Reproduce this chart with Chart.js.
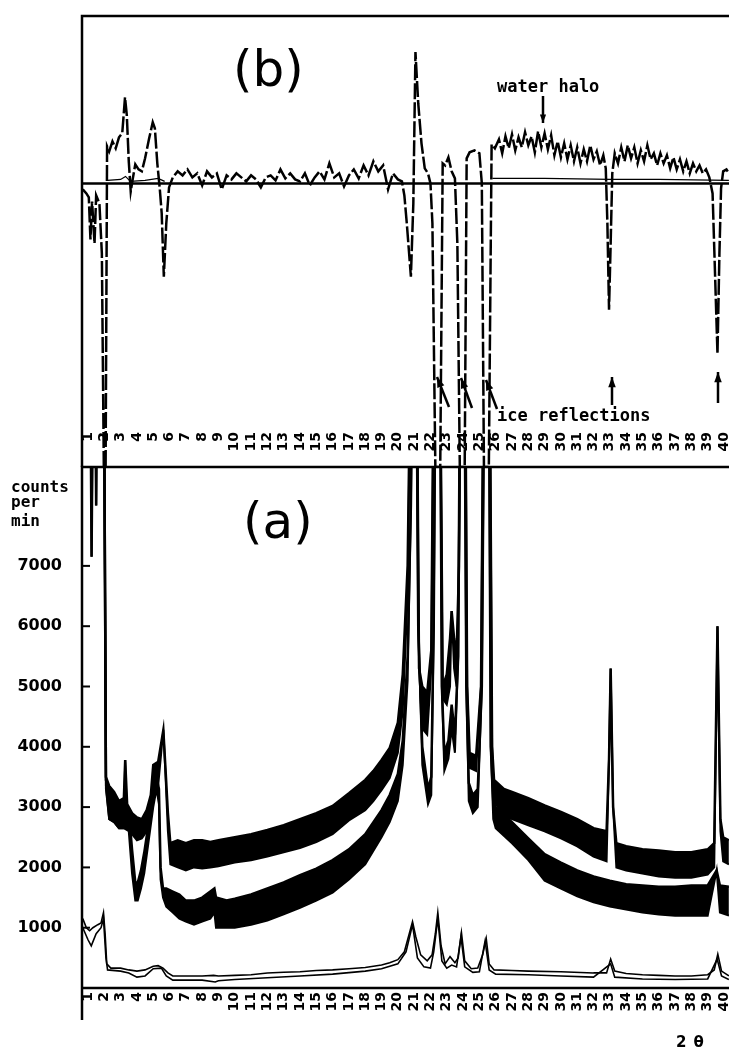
<!DOCTYPE html>
<html>
<head>
<meta charset="utf-8">
<script src="https://cdn.jsdelivr.net/npm/chart.js@4.4.1/dist/chart.umd.min.js"></script>
<style>
  html, body { margin: 0; padding: 0; background: #fff; }
  #wrap { position: relative; width: 729px; height: 1050px; overflow: hidden; }
  #wrap canvas { position: absolute; left: 0; }
  #chart-b { top: 0; }
  #chart-a { top: 460px; }
</style>
</head>
<body>
<div id="wrap">
  <canvas id="chart-b" width="729" height="467"></canvas>
  <canvas id="chart-a" width="729" height="590"></canvas>
</div>
<script>
// --- axis values ---
const angleTicks = [1, 2, 3, 4, 5, 6, 7, 8, 9, 10, 11, 12, 13, 14, 15, 16, 17, 18, 19, 20,
                    21, 22, 23, 24, 25, 26, 27, 28, 29, 30, 31, 32, 33, 34, 35, 36, 37, 38, 39, 40];
const countTicks = [1000, 2000, 3000, 4000, 5000, 6000, 7000];

// --- panel (b): difference trace, arbitrary units, 0 = baseline ---
const bAngle = [0.68, 0.9, 1.05, 1.15, 1.25, 1.4, 1.5, 1.7, 1.85, 1.97, 2.08, 2.17, 2.3, 2.5, 2.7, 2.9, 3.1, 3.27, 3.38, 3.5,
  3.62, 3.75, 3.9, 4.1, 4.3, 4.5, 4.75, 4.97, 5.1, 5.25, 5.4, 5.52, 5.65, 5.8, 5.97, 6.2,
  6.5, 6.8, 7.1, 7.4, 7.7, 8.0, 8.3, 8.6, 8.9, 9.2, 9.5, 9.8, 10.1, 10.4, 10.7, 11.0, 11.3, 11.6, 11.9, 12.2,
  12.5, 12.8, 13.1, 13.4, 13.7, 14.0, 14.3, 14.6, 14.9, 15.2, 15.5, 15.8, 16.1, 16.4, 16.7, 17.0, 17.3, 17.6,
  17.9, 18.2, 18.5, 18.8, 19.1, 19.4, 19.7, 20.0, 20.25,
  20.4, 20.55, 20.8, 20.95, 21.08, 21.25, 21.45, 21.65, 21.85, 22.0, 22.12, 22.3, 22.6, 22.75, 22.9, 23.1, 23.3,
  23.5, 23.65, 23.8, 24.1, 24.22, 24.4, 24.7, 25.0, 25.15, 25.28, 25.58, 25.75, 25.95,
  26.2, 26.4, 26.6, 26.8, 27.0, 27.2, 27.4, 27.6, 27.8, 28.0, 28.2, 28.4, 28.6, 28.8, 29.0, 29.2, 29.4, 29.6,
  29.8, 30.0, 30.2, 30.4, 30.6, 30.8, 31.0, 31.2, 31.4, 31.6, 31.8, 32.0, 32.2, 32.4, 32.6, 32.75, 32.85, 32.95,
  33.05, 33.15, 33.3, 33.5, 33.7, 33.9, 34.1, 34.3, 34.5, 34.7, 34.9, 35.1, 35.3, 35.5, 35.7, 35.9, 36.1, 36.3,
  36.5, 36.7, 36.9, 37.1, 37.3, 37.5, 37.7, 37.9, 38.1, 38.3, 38.5, 38.7, 38.9, 39.1, 39.3, 39.45, 39.6, 39.72,
  39.82, 39.95, 40.15, 40.3];
const bDiff = [-6, -10, -14, -56, -18, -60, -12, -20, -70, -283, -283, 37, 32, 42, 35, 46, 50, 86, 68, 22,
  -8, 5, 19, 14, 12, 25, 45, 61, 55, 20, -5, -30, -93, -40, -4, 6,
  12, 8, 14, 6, 10, -2, 12, 6, 10, -6, 8, 4, 10, 6, 2, 8, 4, -4, 6, 8,
  3, 14, 5, 10, 4, 2, 10, -2, 6, 12, 4, 20, 6, 10, -3, 8, 14, 5,
  18, 8, 22, 12, 18, -6, 10, 4, 2,
  -12, -40, -93, -20, 131, 80, 40, 15, 10, 0, -40, -283, -283, 20, 18, 26, 12,
  5, -60, -283, -283, 25, 31, 33, 30, 0, -283, -283, 39, 35,
  44, 30, 47, 35, 49, 33, 46, 36, 51, 38, 47, 31, 52, 36, 50, 34, 48, 28,
  42, 26, 40, 24, 38, 22, 36, 20, 34, 22, 38, 24, 32, 18, 28, 15, -40, -126,
  -60, 10, 30, 20, 36, 22, 38, 25, 36, 20, 33, 22, 38, 24, 30, 18, 30, 20,
  28, 15, 26, 14, 24, 12, 22, 10, 20, 12, 18, 10, 14, 6, -10, -90, -170, -70,
  -5, 12, 14, 10];
// thin reference trace just above the baseline
const bRefAngle = [2.2, 3.0, 3.3, 3.6, 4.5, 5.3, 5.7, 5.9, 25.8, 29, 33, 36, 40.3];
const bRef = [3, 4, 7, 2, 3, 5, 2, null, 5, 5, 4, 4, 3];

// --- panel (a): counts per min ---
const upperAngle = [0.68, 1.1, 1.22, 1.35, 1.95, 2.1, 2.3, 2.6, 2.9, 3.2, 3.28, 3.4, 3.7, 4.0, 4.3, 4.6, 4.85, 5.0, 5.3,
  5.62, 5.75, 5.9, 6.05, 6.5, 7.0, 7.5, 8.0, 8.5, 9.0, 10, 11, 12, 13, 14, 15, 16, 17, 18, 18.5, 19, 19.5, 20,
  20.3, 20.6, 20.85, 21.12, 21.3, 21.5, 21.8, 22.05, 22.25, 22.55, 22.75, 23.0, 23.2, 23.3, 23.45, 23.6, 23.75,
  23.88, 24.1, 24.25, 24.4, 24.8, 25.1, 25.3, 25.6, 25.78, 25.9, 26.5, 27, 28, 29, 30, 31, 32, 32.8, 32.95,
  33.05, 33.2, 33.4, 34, 35, 36, 37, 38, 39, 39.4, 39.6, 39.78, 39.95, 40.3];
const upperHigh = [12000, 12000, 7150, 12000, 12000, 3500, 3350, 3250, 3100, 3150, 3780, 3050, 2900, 2830, 2800, 2950, 3200, 3700, 3750,
  4280, 3650, 2900, 2400, 2450, 2400, 2450, 2450, 2420, 2450, 2500, 2550, 2620, 2700, 2800, 2900, 3020, 3230, 3450, 3600, 3780, 3980, 4400,
  5200, 7000, 12000, 12000, 5300, 5000, 4900, 5600, 12000, 12000, 5000, 5200, 5800, 6250, 5800, 5500, 7000,
  12000, 12000, 5000, 3900, 3850, 5000, 12000, 12000, 4000, 3450, 3300, 3250, 3150, 3030, 2920, 2800, 2650, 2600, 3800,
  5300, 3000, 2400, 2350, 2300, 2280, 2250, 2250, 2300, 2400, 6000, 2800, 2500, 2450];
const upperLow = [12000, 12000, 7150, 12000, 12000, 3350, 2800, 2750, 2650, 2650, 3780, 2700, 2550, 2450, 2480, 2600, 2850, 3150, 3350,
  4280, 3550, 2600, 2050, 2000, 1950, 2000, 1980, 2000, 2020, 2080, 2120, 2180, 2250, 2320, 2420, 2550, 2780, 2950, 3100, 3280, 3480, 3900,
  4600, 6500, 12000, 12000, 5300, 4300, 4200, 5300, 12000, 12000, 4800, 4700, 5000, 6250, 5300, 5000, 7000,
  12000, 12000, 5000, 3650, 3600, 5000, 12000, 12000, 4000, 3100, 2850, 2800, 2700, 2600, 2480, 2350, 2180, 2100, 3800,
  5300, 3000, 2000, 1950, 1900, 1850, 1830, 1830, 1880, 2000, 6000, 2600, 2100, 2050];

const lowerAngle = [0.68, 1.4, 1.5, 1.6, 1.95, 2.1, 2.3, 2.6, 2.9, 3.2, 3.5, 3.7, 3.9, 4.05, 4.25, 4.45, 4.7, 4.85, 5.0, 5.2,
  5.35, 5.45, 5.6, 5.8, 6.2, 6.6, 7.0, 7.5, 8.0, 8.5, 8.75, 8.85, 9.5, 10, 11, 12, 13, 14, 15, 16, 17, 18, 19, 19.5,
  20, 20.3, 20.6, 20.8, 20.95, 21.1, 21.25, 21.5, 21.85, 22.05, 22.2, 22.35, 22.55, 22.7, 22.85, 23.1, 23.3, 23.5,
  23.7, 23.85, 24.05, 24.2, 24.35, 24.6, 24.9, 25.15, 25.35, 25.55, 25.7, 25.85, 26, 27, 28, 29, 30, 31, 32, 33,
  34, 35, 36, 37, 38, 39, 39.55, 39.75, 40.3];
const lowerHigh = [12000, 12000, 8000, 12000, 12000, 3450, 3300, 3200, 3050, 3100, 2950, 2300, 1750, 1750, 1950, 2250, 2700, 3000, 3300, 3500,
  3300, 2000, 1650, 1650, 1600, 1550, 1450, 1450, 1500, 1600, 1650, 1500, 1450, 1480, 1550, 1650, 1750, 1870, 1980, 2120, 2300, 2550, 2950, 3200,
  3550, 4100, 5500, 8000, 12000, 12000, 6000, 4000, 3300, 3500, 6000, 12000, 12000, 5000, 3900, 4100, 4700, 4200,
  5500, 12000, 12000, 5000, 3400, 3200, 3300, 5000, 12000, 12000, 4000, 3100, 3000, 2750, 2480, 2220, 2080, 1950, 1850, 1780,
  1720, 1700, 1680, 1680, 1700, 1700, 1950, 1700, 1680];
const lowerLow = [12000, 12000, 8000, 12000, 12000, 3300, 2800, 2750, 2650, 2650, 2600, 1900, 1450, 1450, 1650, 1900, 2400, 2700, 3000, 3300,
  3050, 1800, 1500, 1350, 1250, 1150, 1100, 1050, 1100, 1150, 1250, 1000, 1000, 1000, 1050, 1120, 1220, 1330, 1450, 1580, 1800, 2050, 2500, 2750,
  3100, 3700, 5100, 8000, 12000, 12000, 6000, 3700, 3050, 3200, 6000, 12000, 12000, 5000, 3600, 3800, 4300, 3900,
  5500, 12000, 12000, 5000, 3100, 2900, 3000, 5000, 12000, 12000, 4000, 2800, 2650, 2400, 2120, 1780, 1650, 1520, 1420, 1350,
  1300, 1250, 1220, 1200, 1200, 1200, 1950, 1250, 1200];

const cellAngle = [0.68, 0.9, 1.1, 1.3, 1.6, 1.8, 1.95, 2.05, 2.15, 2.4, 3.0, 3.5, 4.0, 4.5, 5.0, 5.3, 5.6, 5.9, 6.2, 7, 8,
  8.7, 9, 10, 11, 12, 13, 14, 15, 16, 17, 18, 19, 19.5, 20, 20.4, 20.7, 20.9, 21.1, 21.4, 21.8, 22.1, 22.3, 22.45,
  22.65, 22.9, 23.2, 23.5, 23.7, 23.9, 24.1, 24.5, 24.9, 25.2, 25.42, 25.6, 25.9, 27, 28, 30, 32, 32.8, 33.05, 33.3,
  34, 35, 36, 37, 38, 39, 39.4, 39.62, 39.85, 40.3];
const cellCounts = [1150, 1000, 950, 1000, 1050, 1080, 1250, 900, 400, 330, 330, 300, 280, 300, 360, 370, 330, 250, 200, 200, 200,
  210, 200, 210, 220, 250, 260, 270, 290, 300, 320, 340, 380, 420, 470, 600, 900, 1100, 850, 550, 450, 550, 900, 1250,
  700, 400, 520, 420, 500, 920, 450, 320, 330, 550, 820, 400, 300, 290, 280, 270, 250, 250, 480, 280,
  240, 220, 210, 200, 200, 220, 300, 560, 280, 200];

const blankAngle = [0.68, 1.0, 1.2, 1.5, 1.8, 1.95, 2.1, 2.2, 3, 3.5, 4.0, 4.5, 5.0, 5.5, 5.8, 6.2, 7, 8, 8.8, 9, 10, 12,
  14, 16, 18, 19, 20, 20.5, 20.9, 21.2, 21.6, 22.0, 22.2, 22.45, 22.7, 23.0, 23.3, 23.6, 23.87, 24.1, 24.6, 25.0,
  25.35, 25.6, 26, 28, 30, 32, 33.05, 33.3, 35, 37, 39, 39.58, 39.85, 40.3];
const blankCounts = [1000, 800, 700, 900, 1000, 1150, 500, 300, 280, 250, 180, 200, 320, 330, 200, 130, 130, 130, 100, 120, 140, 170,
  200, 230, 280, 320, 400, 600, 1050, 500, 350, 330, 600, 1150, 450, 330, 380, 350, 850, 350, 260, 270,
  780, 300, 230, 220, 200, 180, 400, 180, 150, 140, 150, 480, 200, 140];

// --- helpers ---
const X_MIN = 0.632;
const X_MAX = 40.307;
const toPoints = (xs, ys) => xs.map((x, i) => ({ x: x, y: ys[i] }));
const tickFont = { family: 'DejaVu Sans', size: 14, weight: 'bold' };

function drawArrow(ctx, x1, y1, x2, y2, head) {
    const a = Math.atan2(y2 - y1, x2 - x1);
    ctx.beginPath();
    ctx.moveTo(x1, y1);
    ctx.lineTo(x2, y2);
    ctx.stroke();
    ctx.beginPath();
    ctx.moveTo(x2, y2);
    ctx.lineTo(x2 - head * Math.cos(a - 0.35), y2 - head * Math.sin(a - 0.35));
    ctx.lineTo(x2 - head * Math.cos(a + 0.35), y2 - head * Math.sin(a + 0.35));
    ctx.closePath();
    ctx.fill();
}

const angleAxis = (height, pad) => ({
    type: 'linear',
    min: X_MIN,
    max: X_MAX,
    grid: { display: false, drawTicks: false },
    border: { display: false },
    afterBuildTicks: s => { s.ticks = angleTicks.map(v => ({ value: v })); },
    afterFit: s => { s.height = height; s.paddingLeft = 0; s.paddingRight = 0; },
    ticks: {
        autoSkip: false, minRotation: 90, maxRotation: 90, padding: pad,
        color: '#000', font: tickFont, callback: v => String(v)
    }
});

// --- panel (b) frame and notes ---
const panelB = {
    id: 'panelB',
    afterDatasetsDraw(chart) {
        const { ctx, chartArea, scales } = chart;
        ctx.save();
        ctx.strokeStyle = '#000';
        ctx.fillStyle = '#000';
        ctx.lineWidth = 2.5;
        ctx.beginPath();
        ctx.moveTo(chartArea.left, chart.height);
        ctx.lineTo(chartArea.left, chartArea.top);
        ctx.lineTo(chart.width, chartArea.top);
        ctx.stroke();
        // baseline
        const y0 = scales.y.getPixelForValue(0);
        ctx.beginPath();
        ctx.moveTo(chartArea.left, y0);
        ctx.lineTo(chart.width, y0);
        ctx.stroke();

        ctx.font = '50px "DejaVu Sans"';
        ctx.textBaseline = 'alphabetic';
        ctx.fillText('(b)', 233, 86);

        ctx.font = 'bold 17px "DejaVu Sans Mono"';
        ctx.fillText('water halo', 497, 92);
        ctx.fillText('ice reflections', 497, 421);

        ctx.lineWidth = 2.5;
        drawArrow(ctx, 543, 96, 543, 123, 9);
        drawArrow(ctx, 449, 407, 437, 377, 11);
        drawArrow(ctx, 472, 408, 461, 378, 11);
        drawArrow(ctx, 497, 409, 486, 380, 11);
        drawArrow(ctx, 612, 405, 612, 377, 11);
        drawArrow(ctx, 718, 403, 718, 372, 11);
        ctx.restore();
    }
};

// --- panel (a) frame and notes ---
const panelA = {
    id: 'panelA',
    afterDatasetsDraw(chart) {
        const { ctx, chartArea, scales } = chart;
        ctx.save();
        ctx.strokeStyle = '#000';
        ctx.fillStyle = '#000';
        ctx.lineWidth = 2.5;
        ctx.beginPath();
        ctx.moveTo(chartArea.left, chartArea.bottom + 32);
        ctx.lineTo(chartArea.left, chartArea.top);
        ctx.lineTo(chart.width, chartArea.top);
        ctx.stroke();
        ctx.beginPath();
        ctx.moveTo(chartArea.left, chartArea.bottom);
        ctx.lineTo(chart.width, chartArea.bottom);
        ctx.stroke();
        // inward count ticks
        ctx.lineWidth = 2;
        countTicks.forEach(v => {
            const y = scales.y.getPixelForValue(v);
            ctx.beginPath();
            ctx.moveTo(chartArea.left, y);
            ctx.lineTo(chartArea.left + 8, y);
            ctx.stroke();
        });

        ctx.font = 'bold 16px "DejaVu Sans Mono"';
        ctx.fillText('counts', 11, 32);
        ctx.fillText('per', 11, 47);
        ctx.fillText('min', 11, 66);

        ctx.font = '50px "DejaVu Sans"';
        ctx.fillText('(a)', 243, 78);

        ctx.font = 'bold 15px "DejaVu Sans"';
        ctx.letterSpacing = '7px';
        ctx.fillText('2\u03b8', 676, 587);
        ctx.restore();
    }
};

new Chart(document.getElementById('chart-b'), {
    type: 'line',
    data: {
        datasets: [
            { data: toPoints(bAngle, bDiff), borderColor: '#000', borderWidth: 2.5, borderDash: [16, 3],
              pointRadius: 0, tension: 0, clip: false },
            { data: toPoints(bRefAngle, bRef), borderColor: '#000', borderWidth: 1.2, pointRadius: 0, tension: 0 }
        ]
    },
    options: {
        responsive: false,
        animation: false,
        layout: { padding: { left: 82, top: 16, right: 0, bottom: 0 } },
        plugins: { legend: { display: false }, tooltip: { enabled: false } },
        scales: {
            x: angleAxis(37, 2),
            y: { display: false, min: -246, max: 167 }
        }
    },
    plugins: [panelB]
});

new Chart(document.getElementById('chart-a'), {
    type: 'line',
    data: {
        datasets: [
            { data: toPoints(upperAngle, upperHigh), borderColor: '#000', borderWidth: 2.5, pointRadius: 0,
              tension: 0, fill: '+1', backgroundColor: '#000' },
            { data: toPoints(upperAngle, upperLow), borderColor: '#000', borderWidth: 2, pointRadius: 0, tension: 0 },
            { data: toPoints(lowerAngle, lowerHigh), borderColor: '#000', borderWidth: 2.5, pointRadius: 0,
              tension: 0, fill: '+1', backgroundColor: '#000' },
            { data: toPoints(lowerAngle, lowerLow), borderColor: '#000', borderWidth: 2, pointRadius: 0, tension: 0 },
            { data: toPoints(cellAngle, cellCounts), borderColor: '#000', borderWidth: 1.6, pointRadius: 0, tension: 0 },
            { data: toPoints(blankAngle, blankCounts), borderColor: '#000', borderWidth: 1.6, pointRadius: 0, tension: 0 }
        ]
    },
    options: {
        responsive: false,
        animation: false,
        layout: { padding: { left: 0, top: 7, right: 0, bottom: 0 } },
        plugins: { legend: { display: false }, tooltip: { enabled: false } },
        scales: {
            x: angleAxis(62, 4),
            y: {
                min: 0,
                max: 8640,
                grid: { display: false, drawTicks: false },
                border: { display: false },
                afterBuildTicks: s => { s.ticks = countTicks.map(v => ({ value: v })); },
                afterFit: s => { s.width = 82; s.paddingTop = 0; s.paddingBottom = 0; },
                ticks: {
                    padding: 20, color: '#000',
                    font: { family: 'DejaVu Sans', size: 16, weight: 'bold' },
                    callback: v => String(v)
                }
            }
        }
    },
    plugins: [panelA]
});
</script>
</body>
</html>
